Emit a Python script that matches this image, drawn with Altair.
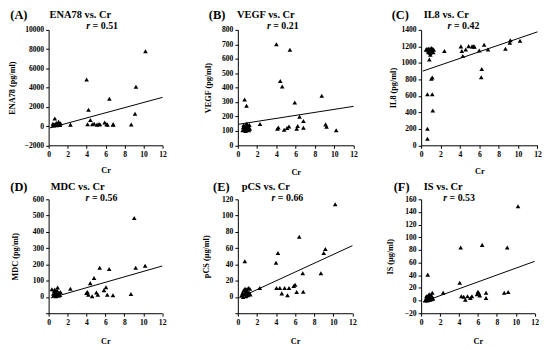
import altair as alt
import pandas as pd

FONT = "Liberation Serif"

# ---------------- data ----------------
cr_a = [0.45, 0.5, 0.55, 0.6, 0.65, 0.75, 0.8, 0.85, 0.9, 0.95, 1.0, 1.05, 1.1, 1.15, 1.2, 1.25,
        2.3, 4.0, 4.1, 4.2, 4.4, 4.6, 4.8, 5.1, 5.3, 5.4, 5.9, 6.1, 6.2, 6.4, 6.8, 6.8, 8.7, 9.1, 9.2, 10.2]
ena78 = [240, 100, 60, 150, 790, 120, 310, 80, 180, 250, 100, 450, 200, 150, 120, 300,
         150, 4850, 200, 1700, 620, 200, 240, 150, 200, 180, 380, 200, 150, 2850, 200, 150, 170, 1270, 4080, 7790]
line_a_x = [0.1, 12]
line_a_y = [-200, 2985]

cr_b = [0.5, 0.55, 0.6, 0.65, 0.7, 0.75, 0.8, 0.85, 0.9, 0.9, 0.95, 1.0, 1.05, 1.1, 1.15, 1.2, 1.25,
        2.3, 4.0, 4.1, 4.2, 4.4, 4.6, 4.8, 5.1, 5.3, 5.4, 5.9, 6.1, 6.2, 6.4, 6.8, 6.8, 8.7, 9.1, 9.2, 10.2]
vegf = [105, 125, 140, 110, 318, 130, 100, 145, 274, 120, 150, 110, 135, 125, 105, 140, 115,
        147, 700, 115, 124, 445, 408, 108, 120, 131, 663, 297, 115, 134, 198, 168, 122, 343, 145, 129, 104]
line_b_x = [0.1, 12]
line_b_y = [146, 270]

cr_c = [0.65, 0.65, 0.65, 1.15, 1.2, 1.05, 1.15, 0.85, 0.5, 0.6, 0.7, 0.75, 0.8, 0.9, 0.95, 1.0, 1.05,
        1.1, 1.2, 1.25, 1.3, 0.95,
        2.4, 4.1, 4.2, 4.3, 4.6, 4.9, 5.25, 5.4, 5.5, 6.0, 6.25, 6.2, 6.5, 6.9, 8.7, 9.15, 9.2, 10.2]
il8 = [200, 80, 620, 618, 421, 806, 822, 1040, 1160, 1170, 1150, 1130, 1175, 1145, 1120, 1165, 1180,
       1150, 1170, 1130, 1160, 1100,
       1143, 1200, 1143, 1083, 1163, 1203, 1200, 1200, 1195, 1150, 926, 826, 1220, 1163, 1171, 1243, 1275, 1267]
line_c_x = [0.17, 12]
line_c_y = [900, 1376]

cr_d = [0.35, 0.6, 0.95, 0.5, 0.55, 0.7, 0.75, 0.8, 0.85, 0.9, 1.0, 1.05, 1.1, 1.2, 1.25, 0.65,
        2.3, 4.0, 4.1, 4.2, 4.4, 4.6, 4.8, 5.05, 5.2, 5.4, 5.85, 6.06, 6.2, 6.4, 6.8, 8.7, 9.05, 9.2, 10.2]
mdc = [48, 38, 58, 20, 10, 25, 5, 30, 15, 40, 20, 8, 25, 12, 30, 45,
       50, 24, 30, 14, 85, 5, 117, 28, 14, 180, 42, 60, 14, 172, 10, 18, 485, 180, 192]
line_d_x = [0.24, 12]
line_d_y = [-6, 190]

cr_e = [0.73, 0.4, 0.5, 0.55, 0.6, 0.7, 0.75, 0.8, 0.85, 0.9, 0.95, 1.0, 1.05, 1.1, 1.2, 1.25, 1.3,
        2.3, 4.0, 4.2, 4.05, 4.4, 4.6, 4.9, 5.2, 5.36, 5.85, 6.0, 6.16, 6.43, 6.8, 6.85, 8.7, 9.0, 9.17, 10.2]
pcs = [44, 2, 5, 0, 8, 3, 10, 6, 1, 9, 4, 7, 2, 11, 5, 10, 3,
       11, 42, 54, 11, 11, 4.4, 11, 2, 11, 13.6, 15, 6, 74, 29, 6.4, 29, 54, 59, 114]
line_e_x = [0.15, 12]
line_e_y = [-1, 63]

cr_f = [0.7, 1.18, 0.45, 0.5, 0.55, 0.6, 0.65, 0.75, 0.8, 0.85, 0.9, 0.95, 1.0, 1.05, 1.1, 1.2, 1.25,
        2.33, 4.08, 4.18, 4.25, 4.5, 4.67, 4.9, 5.2, 5.37, 5.9, 6.0, 6.1, 6.2, 6.45, 6.86, 6.86, 8.78, 9.1, 9.2, 10.24]
is_vals = [41, 12.4, 0, 2, 7, 5, 0, 8, 3, 10, 1, 6, 4, 9, 2, 5, 3,
           12.4, 28, 84, 7, 6, 1.5, 7, 4, 7, 10, 14, 12, 8, 88, 12.4, 4, 12.4, 84, 13.5, 149]
line_f_x = [0.2, 12]
line_f_y = [-2, 62]

x_ticks = [0, 2, 4, 6, 8, 10, 12]

panels = [
    dict(letter="(A)", title="ENA78 vs. Cr", r="0.51", ytitle="ENA78 (pg/ml)", x=cr_a, y=ena78,
         lx=line_a_x, ly=line_a_y, ydom=(-2000, 10000), step=2000, hide=False,
         cw=122.7, pw=115, h=116.5, lt=-30, ty=-15.3, tx=32, rl=38, ry=-4.3, ytx=-36, xty=25),
    dict(letter="(B)", title="VEGF vs. Cr", r="0.21", ytitle="VEGF (pg/ml)", x=cr_b, y=vegf,
         lx=line_b_x, ly=line_b_y, ydom=(0, 800), step=100, hide=False,
         cw=116.8, pw=116.8, h=116.5, lt=-21, ty=-15.3, tx=28.3, rl=29.3, ry=-4.3, ytx=-30, xty=27),
    dict(letter="(C)", title="IL8 vs. Cr", r="0.42", ytitle="IL8 (pg/ml)", x=cr_c, y=il8,
         lx=line_c_x, ly=line_c_y, ydom=(0, 1400), step=200, hide=False,
         cw=118.2, pw=117.4, h=116.5, lt=-21, ty=-15.3, tx=25.4, rl=26.7, ry=-4.3, ytx=-27.6, xty=26),
    dict(letter="(D)", title="MDC vs. Cr", r="0.56", ytitle="MDC (pg/ml)", x=cr_d, y=mdc,
         lx=line_d_x, ly=line_d_y, ydom=(-100, 600), step=100, hide=True,
         cw=122.7, pw=114.6, h=115, lt=-30, ty=-12, tx=29.3, rl=37.3, ry=-1.5, ytx=-33, xty=29),
    dict(letter="(E)", title="pCS  vs. Cr", r="0.66", ytitle="pCS (\u03bcg/ml)", x=cr_e, y=pcs,
         lx=line_e_x, ly=line_e_y, ydom=(-20, 120), step=20, hide=True,
         cw=116.8, pw=115.6, h=115, lt=-16.7, ty=-12, tx=28.3, rl=34, ry=-1.5, ytx=-31.7, xty=29),
    dict(letter="(F)", title="IS vs. Cr", r="0.53", ytitle="IS (\u03bcg/ml)", x=cr_f, y=is_vals,
         lx=line_f_x, ly=line_f_y, ydom=(-20, 160), step=20, hide=False,
         cw=118.2, pw=114.6, h=115, lt=-19.7, ty=-12, tx=22.3, rl=22.3, ry=-1.5, ytx=-31, xty=29),
]

ann = pd.DataFrame({"a": [0]})


def txt(s, x, y, size, align="center", style="normal"):
    return alt.Chart(ann).mark_text(
        text=s, font=FONT, fontSize=size, fontWeight="bold", fontStyle=style,
        align=align, baseline="middle", color="black"
    ).encode(x=alt.value(x), y=alt.value(y))


def panel(p):
    lo, hi = p["ydom"]
    yvals = list(range(lo, hi + 1, p["step"]))
    lab = f"datum.value == {lo} ? '' : datum.label" if p["hide"] else "datum.label"
    df = pd.DataFrame({"Cr": p["x"], "val": p["y"]})
    dl = pd.DataFrame({"Cr": p["lx"], "val": p["ly"]})
    xenc = alt.X("Cr:Q",
                 scale=alt.Scale(domain=[0, 12], nice=False, zero=False, range=[0, p["pw"]]),
                 axis=alt.Axis(values=x_ticks, tickCount=50, format="d", title="Cr",
                               titleY=p["xty"], titleBaseline="middle", labelOverlap=False,
                               labelFlush=False, labelBound=False))
    yenc = alt.Y("val:Q",
                 scale=alt.Scale(domain=[lo, hi], nice=False, zero=False),
                 axis=alt.Axis(values=yvals, tickCount=50, format="d", title=p["ytitle"],
                               titleX=p["ytx"], titleY=p["h"] / 2, titleAngle=270,
                               titleBaseline="middle", titleAlign="center", labelExpr=lab,
                               labelOverlap=False, labelFlush=False, labelBound=False))
    pts = alt.Chart(df).mark_point(shape="triangle-up", filled=True, color="black",
                                   opacity=1, size=22).encode(x=xenc, y=yenc)
    line = alt.Chart(dl).mark_line(color="black", strokeWidth=1).encode(x="Cr:Q", y="val:Q")
    texts = [
        txt(p["letter"], p["lt"], p["ty"], 12.5),
        txt(p["title"], p["tx"], p["ty"], 10.5),
        txt("r", p["rl"], p["ry"], 10, align="left", style="italic"),
        txt("= " + p["r"], p["rl"] + 6.4, p["ry"], 10, align="left"),
    ]
    return alt.layer(pts, line, *texts).properties(width=p["cw"], height=p["h"])


chart = alt.concat(*[panel(p) for p in panels], columns=3,
                   spacing={"row": 54, "column": 68}, bounds="flush").properties(
    padding={"left": 0, "top": -1.5, "right": 0, "bottom": 0},
    background="white"
).configure_view(stroke=None).configure_axis(
    grid=False, domainColor="black", domainWidth=1, tickColor="black", tickSize=3,
    labelFont=FONT, labelFontSize=7.7, labelFontWeight="bold", labelColor="black",
    labelPadding=2, labelFlush=False, labelOverlap=False,
    titleFont=FONT, titleFontSize=8.3, titleFontWeight="bold", titleColor="black"
)

chart.save("out.html", embed_options={"renderer": "svg", "actions": False})
